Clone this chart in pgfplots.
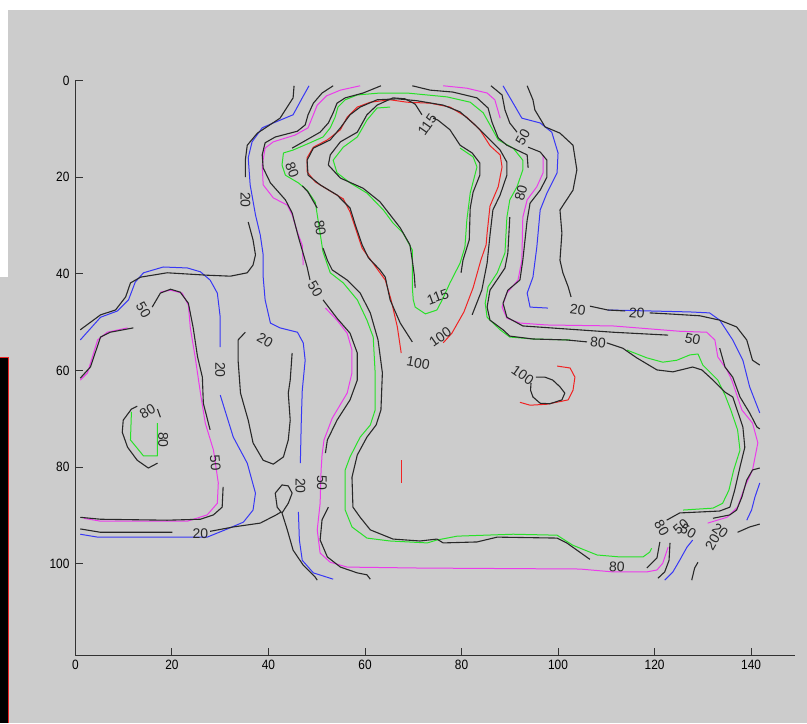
\documentclass[border=0pt]{standalone}
\usepackage{pgfplots}
\pgfplotsset{compat=1.18}
\usepackage{fontspec}
\setmainfont{Liberation Sans}
\newfontfamily\tickfam{Liberation Sans}[FakeStretch=0.88]

\definecolor{bgc}{RGB}{204,204,204}
\definecolor{axc}{RGB}{50,50,50}
\definecolor{kln}{RGB}{40,40,40}
\definecolor{cblue}{RGB}{55,55,245}
\definecolor{cmag}{RGB}{235,60,235}
\definecolor{cgreen}{RGB}{40,225,40}
\definecolor{cred}{RGB}{240,35,35}

\pgfplotsset{
  bl/.style={draw=cblue, line width=1pt, no markers, line join=round},
  mg/.style={draw=cmag, line width=1pt, no markers, line join=round},
  gr/.style={draw=cgreen, line width=1pt, no markers, line join=round},
  rd/.style={draw=cred, line width=1pt, no markers, line join=round},
  kk/.style={draw=kln, line width=1.1pt, no markers, line join=round},
}
\tikzset{lbl/.style={font=\fontsize{14}{16}\selectfont, text=kln, inner sep=0pt}}

\begin{document}
\begin{tikzpicture}
% window background and screen edges
\fill[bgc] (0pt,0pt) rectangle (807pt,-723pt);
\fill[white] (0pt,0pt) rectangle (807pt,-10pt);
\fill[white] (0pt,-10pt) rectangle (8pt,-277pt);
\fill[black] (0pt,-357pt) rectangle (7.5pt,-723pt);
\draw[cred, line width=1pt] (0pt,-357.5pt) -- (8pt,-357.5pt) -- (8pt,-723pt);

\begin{axis}[
  at={(75pt,-80.5pt)}, anchor=north west,
  scale only axis, width=719.5pt, height=575.4pt,
  xmin=0, xmax=149, ymin=0, ymax=119,
  y dir=reverse,
  axis x line*=bottom, axis y line*=left,
  axis line style={draw=axc, line width=1.2pt},
  xtick={0,20,...,140}, ytick={0,20,...,100},
  tick align=inside, major tick length=7.5pt,
  tick style={draw=axc, line width=1pt},
  tick label style={font=\tickfam\fontsize{13.5}{15}\selectfont},
  yticklabel style={xshift=-2.5pt},
  xticklabel style={yshift=-1.5pt},
  /pgf/number format/assume math mode=true,
  clip=false,
]

% ---------------- level 20, blue
\addplot[bl] coordinates {(48.4,1.1)(47.0,3.6)(45.1,7.1)(41.0,8.8)(38.7,9.8)(36.6,12.7)(35.8,16.0)(36.2,21.6)(37.3,27.8)(38.3,32.0)(38.9,36.1)(38.9,40.7)(39.3,45.4)(40.4,50.2)(42.4,51.2)(46.0,52.1)(47.2,54.3)(47.6,57.9)(47.0,64.1)(46.8,70.3)(46.6,79.2)};
\addplot[bl] coordinates {(46.2,89.3)(46.4,95.1)(47.0,99.3)(49.3,101.9)(53.4,103.2)};
\addplot[bl] coordinates {(1.0,53.7)(5.2,49.0)(8.7,47.7)(11.0,45.4)(12.4,41.7)(14.1,39.8)(18.2,38.6)(23.2,38.8)(25.9,39.6)(27.9,41.3)(29.4,44.0)(30.0,49.0)(30.0,55.2)};
\addplot[bl] coordinates {(30.0,65.1)(32.7,73.8)(35.6,79.2)(37.3,85.4)(36.8,88.9)(34.8,91.4)(31.5,92.8)(27.3,94.5)(4.6,94.5)(1.0,93.9)};
\addplot[bl] coordinates {(88.6,1.1)(90.7,4.7)(92.5,7.8)(96.3,8.8)(98.7,10.7)(100.0,15.0)(99.8,19.1)(97.7,23.3)(96.3,26.8)(95.6,34.5)(94.8,40.7)(93.6,44.0)(94.2,46.9)(97.9,47.1)};
\addplot[bl] coordinates {(110.3,47.5)(119.0,47.7)(127.3,47.9)(131.4,48.1)(133.5,49.6)(136.2,53.7)(138.3,57.9)(139.7,63.4)(141.8,68.8)};
\addplot[bl] coordinates {(141.8,83.3)(140.8,86.2)(140.1,88.9)(139.1,91.0)};
\addplot[bl] coordinates {(127.9,95.1)(126.7,96.6)(125.2,99.3)(123.8,101.7)(122.1,103.4)};

% ---------------- level 50, magenta
\addplot[mg] coordinates {(59.0,1.1)(54.9,2.0)(52.0,3.2)(50.1,5.1)(49.3,7.1)(48.2,9.8)(45.5,11.3)(41.0,12.7)(39.3,14.0)(38.7,17.5)(38.9,21.6)(41.0,24.3)(43.9,25.8)(44.9,27.8)(46.0,31.4)(47.0,34.1)(47.2,38.2)};
\addplot[mg] coordinates {(51.8,47.1)(54.2,49.6)(56.3,52.3)(57.3,55.8)(57.3,60.5)(56.3,64.7)(53.2,69.9)(51.5,74.4)(51.1,77.5)(50.9,80.6)(50.7,87.5)(50.1,93.0)(50.7,97.8)(52.8,99.7)(56.3,100.7)(71.4,100.9)(104.5,101.1)(111.4,101.7)(118.4,101.7)(120.5,101.3)(121.7,99.9)(122.8,96.6)};
\addplot[mg] coordinates {(76.2,1.1)(81.1,1.6)(85.3,2.6)(86.9,4.0)(88.0,7.8)};
\addplot[mg] coordinates {(96.9,15.4)(96.9,19.1)(95.6,22.0)(93.6,24.7)(92.7,28.3)(92.5,37.2)(91.7,41.3)(89.4,44.0)(88.4,46.9)(89.4,49.2)(92.1,50.2)(97.7,50.6)(111.4,50.8)(125.2,51.9)(130.8,52.1)(132.5,53.7)(133.1,57.2)(135.0,59.9)(136.0,62.0)(138.1,68.2)(140.3,70.9)(141.4,75.0)(140.3,80.6)(138.7,84.1)(137.2,88.3)(135.0,90.4)(131.0,91.6)};
\addplot[mg] coordinates {(1.0,62.0)(2.5,60.5)(4.6,53.7)(6.6,52.1)(10.8,51.2)};
\addplot[mg] coordinates {(17.6,43.8)(19.7,43.4)(22.1,44.0)(23.4,46.5)(23.8,51.2)(24.8,57.2)(25.9,64.7)(26.9,70.9)(28.6,76.5)(29.6,83.3)(29.4,87.5)(27.3,89.9)(23.2,91.2)(5.2,91.2)(1.7,90.6)};

% ---------------- level 80, green
\addplot[gr] coordinates {(119.4,96.8)(119.0,97.6)(117.6,98.6)(112.8,98.6)(108.1,98.2)(103.1,96.2)(99.8,94.1)(90.7,93.9)(79.1,94.3)(74.9,95.1)(72.9,95.7)(65.2,95.3)(60.4,94.7)(57.3,92.4)(55.9,88.9)(55.9,80.6)(56.9,77.9)(59.0,73.8)(61.1,71.3)(62.1,68.2)(62.1,60.5)(61.7,53.1)(60.4,49.6)(58.4,45.4)(55.5,41.9)(52.8,39.8)(51.3,35.5)(49.7,25.2)(48.0,22.7)(46.2,21.2)(43.5,19.6)(42.8,17.5)(43.1,15.0)(45.1,14.4)(48.6,12.9)(51.3,11.7)(52.8,9.8)(53.8,7.6)(54.4,5.5)(55.9,4.0)(58.4,3.0)(63.1,2.6)(68.7,2.6)(77.0,3.4)(81.8,4.5)(84.5,6.7)(85.9,9.2)(87.6,12.3)(90.7,14.0)(92.7,16.5)(92.7,18.5)(91.5,22.0)(90.0,24.7)(89.4,28.3)(89.0,35.7)(87.4,39.8)(85.5,42.7)(84.9,46.1)(85.3,49.0)(88.0,51.6)(90.0,53.1)(94.8,53.5)(102.5,53.7)};
\addplot[gr] coordinates {(114.3,55.8)(118.4,57.4)(121.7,58.3)(124.6,57.9)(127.3,56.8)(129.0,56.6)(130.0,58.9)(131.4,60.3)(133.1,62.0)(134.6,65.1)(135.8,68.2)(137.2,72.3)(137.7,76.5)(136.4,80.6)(135.4,84.8)(134.1,87.5)(132.1,88.5)(125.9,88.9)};
\addplot[gr] coordinates {(11.6,68.6)(11.4,74.4)(12.8,76.1)(14.1,77.7)(17.0,77.7)(17.0,70.9)};

% ---------------- level 100, red
\addplot[rd] coordinates {(67.5,56.4)(66.7,51.0)(65.4,45.4)(64.2,41.3)(61.5,37.6)(59.4,34.7)(58.0,30.5)(56.9,27.2)(55.5,24.5)(52.8,22.9)(49.7,21.0)(48.0,18.9)(48.0,16.0)(49.3,13.8)(52.2,12.3)(54.9,10.2)(56.3,7.6)(58.4,5.5)(61.1,4.5)(65.2,4.0)(68.7,4.5)(73.5,4.7)(77.6,5.5)(81.1,7.6)(83.8,10.2)(85.9,13.5)(88.0,15.4)(88.4,17.9)(87.6,22.0)(85.9,26.0)(85.3,31.6)(85.1,34.0)(84.0,37.2)(82.4,42.9)(80.5,47.9)(78.0,52.3)(76.2,54.3)};
\addplot[rd] coordinates {(99.8,59.1)(102.5,59.5)(103.5,61.4)(103.1,64.1)(102.1,66.1)(97.7,67.0)(94.2,67.2)(92.1,66.6)};
\addplot[rd] coordinates {(67.5,78.6)(67.5,83.3)};

% ---------------- level 115, green
\addplot[gr] coordinates {(65.2,5.5)(62.5,5.7)(60.4,8.2)(58.4,11.7)(55.5,13.8)(53.4,16.5)(54.2,19.1)(56.9,21.2)(60.4,23.3)(63.8,26.8)(65.8,29.5)(67.9,31.6)(69.8,35.1)(69.8,42.7)(70.0,45.4)(70.4,46.9)(72.5,48.3)(74.9,47.5)(76.0,45.4)(77.6,41.9)(79.7,37.8)(80.7,34.5)(81.1,28.9)(81.8,23.3)(83.2,17.9)(82.4,15.8)(79.7,14.0)};

% ---------------- labelled contours, black
% 20
\addplot[kk] coordinates {(45.3,1.1)(45.1,3.6)(42.4,7.8)(37.7,10.9)(35.6,13.4)(35.2,16.5)(35.2,20.0)};
\addplot[kk] coordinates {(35.8,29.3)(36.8,33.0)(37.3,36.1)(36.8,38.2)(35.6,39.8)(32.1,40.5)(27.3,40.3)(19.0,39.8)(13.5,40.7)(11.4,41.9)(10.4,44.8)(8.3,47.5)(5.2,48.5)(1.0,51.6)};
\addplot[kk] coordinates {(1.0,92.8)(5.2,93.5)(20.1,93.5)};
\addplot[kk] coordinates {(27.9,93.3)(32.7,92.4)(38.3,91.6)(41.6,89.9)(42.6,89.3)(41.8,88.3)(41.4,85.4)(42.8,83.7)(44.1,83.9)(44.9,85.4)(44.1,87.5)(42.8,89.5)(43.9,93.0)(45.1,97.2)(47.2,100.3)(49.7,102.8)(50.1,103.4)};
\addplot[kk] coordinates {(35.2,52.1)(33.7,53.7)(33.7,57.9)(34.2,64.7)(35.8,70.3)(36.8,75.0)(38.9,78.6)(41.0,79.4)(43.1,77.9)(44.1,74.4)(44.5,70.3)(44.1,64.7)(44.5,62.0)(44.9,56.4)};
\addplot[kk] coordinates {(93.6,1.1)(94.8,4.0)(95.2,6.1)(97.3,9.6)(100.4,10.9)(103.1,13.4)(103.9,18.5)(103.1,22.7)(100.4,26.8)(100.8,31.6)(100.4,37.2)(101.0,39.8)(102.1,42.7)(102.7,44.8)};
\addplot[kk] coordinates {(106.6,46.7)(110.3,47.5)(113.9,47.7)};
\addplot[kk] coordinates {(119.0,48.1)(122.8,48.3)(129.4,48.7)(133.5,49.6)(137.0,51.0)(139.1,53.7)(140.3,57.9)(141.8,58.9)};
\addplot[kk] coordinates {(141.8,91.8)(139.7,92.4)(137.2,93.5)};
\addplot[kk] coordinates {(129.0,99.7)(128.3,100.9)(127.7,103.4)};
% 50
\addplot[kk] coordinates {(53.4,1.1)(51.1,2.6)(49.3,4.7)(48.2,7.1)(47.6,9.2)(46.0,10.5)(41.4,11.7)(39.3,12.9)(38.7,15.4)(38.9,18.1)(40.4,21.2)(43.5,24.7)(44.9,27.4)(46.2,32.4)(48.0,38.6)(48.6,41.3)};
\addplot[kk] coordinates {(51.3,45.4)(54.2,49.2)(56.9,52.3)(58.4,56.4)(58.4,62.0)(56.9,66.1)(54.2,70.3)(52.2,74.4)(51.8,77.1)};
\addplot[kk] coordinates {(52.4,88.3)(51.1,90.9)(50.7,95.1)(52.2,98.6)(54.9,100.7)(58.4,101.9)(60.4,102.3)(61.1,103.2)};
\addplot[kk] coordinates {(86.1,1.1)(88.4,3.0)(89.0,6.1)(90.0,8.8)(91.5,10.7)};
\addplot[kk] coordinates {(93.8,13.8)(96.3,14.8)(97.7,16.5)(97.7,20.0)(96.3,22.7)(94.2,25.4)(93.6,28.9)(92.7,37.2)(92.1,41.3)(89.6,43.4)(88.6,46.1)(89.4,49.0)(92.7,50.8)(111.4,52.1)(122.8,52.7)};
\addplot[kk] coordinates {(133.5,55.4)(134.6,59.3)(136.2,61.4)(137.7,65.5)(139.7,68.8)(141.2,71.7)(141.8,72.1)};
\addplot[kk] coordinates {(141.8,80.2)(140.3,80.6)(139.1,82.7)(138.1,86.2)(137.0,88.9)(135.6,89.9)(132.1,90.6)};
\addplot[kk] coordinates {(123.2,95.7)(123.0,99.3)(122.1,101.7)(120.7,103.0)};
\addplot[kk] coordinates {(1.0,61.6)(3.1,59.3)(5.2,53.1)(7.2,52.1)(12.0,51.2)};
\addplot[kk] coordinates {(15.9,46.9)(17.6,44.0)(19.7,43.2)(21.7,43.8)(23.4,46.1)(24.4,51.2)(25.3,57.2)(26.3,61.4)(26.5,66.8)(27.9,72.3)};
\addplot[kk] coordinates {(30.6,84.1)(30.4,88.3)(28.6,89.9)(25.9,90.8)(19.0,91.0)(5.2,90.8)(1.0,90.4)};
% 80
\addplot[kk] coordinates {(63.3,1.1)(61.1,2.0)(59.6,2.6)(55.9,3.6)(54.2,4.7)(53.4,6.7)(52.4,8.8)(50.7,10.7)(47.2,12.7)(44.9,14.0)};
\addplot[kk] coordinates {(47.0,21.8)(48.2,23.1)(50.1,26.4)};
\addplot[kk] coordinates {(51.3,34.7)(52.2,37.2)(53.2,39.2)(56.3,41.3)(59.0,44.0)(61.1,48.1)(62.7,53.7)(63.6,60.5)(63.3,68.2)(62.3,71.3)(60.4,73.8)(58.4,77.5)(57.3,82.1)(57.5,88.3)(59.0,90.4)(61.1,93.0)(65.8,94.9)(71.4,95.3)(74.9,94.9)(76.2,95.7)(83.2,95.5)(87.4,94.5)(99.8,94.7)(101.8,95.7)(106.6,99.1)};
\addplot[kk] coordinates {(69.8,1.1)(73.5,2.0)(78.2,2.4)(83.2,3.6)(85.5,5.7)(86.3,8.6)(87.6,11.9)(89.4,13.4)(91.5,14.4)(93.6,15.4)(93.8,18.1)};
\addplot[kk] coordinates {(90.0,28.3)(89.6,35.7)(89.0,38.8)(87.6,40.9)(85.9,43.4)(85.3,46.9)(85.9,49.6)(88.6,51.6)(90.0,52.9)(94.8,53.5)(101.8,53.7)(106.0,54.1)};
\addplot[kk] coordinates {(110.1,54.3)(113.4,55.4)(116.3,57.4)(120.5,59.9)(123.8,60.3)(127.9,59.3)(129.8,59.9)(132.1,62.0)(134.6,64.5)(136.2,65.5)(138.3,71.7)(138.7,75.9)(137.7,80.0)(136.6,84.8)(135.6,88.3)(133.5,89.1)(125.2,89.5)(122.5,91.0)};
\addplot[kk] coordinates {(121.1,95.5)(120.5,98.8)(118.4,100.9)};
\addplot[kk] coordinates {(17.6,69.7)(17.0,68.0)};
\addplot[kk] coordinates {(12.8,67.4)(11.6,68.0)(9.9,70.3)(9.7,72.8)(10.8,75.9)(12.8,78.6)(15.1,80.2)(17.0,79.2)};
% 100
\addplot[kk] coordinates {(69.8,54.1)(67.3,50.2)(65.2,45.4)(64.2,40.7)(63.1,39.2)(60.7,36.7)(59.4,34.0)(58.0,29.9)(56.9,26.4)(54.2,23.7)(50.7,21.6)(48.2,19.6)(48.0,16.5)(49.3,14.0)(52.8,12.3)(54.9,9.8)(56.9,7.1)(59.0,5.5)(62.5,4.0)(66.7,3.8)(70.8,4.2)(76.2,5.1)(79.7,6.5)(82.8,9.2)(85.9,12.3)(88.0,14.4)(89.4,16.9)(89.4,19.6)(88.0,23.7)(86.5,26.8)(85.9,32.0)(85.3,37.8)(84.2,43.4)(82.2,48.5)};
\addplot[kk] coordinates {(95.4,61.4)(97.3,61.4)(98.9,62.0)(100.4,63.4)(101.4,64.7)(100.8,66.1)(98.3,66.9)(96.3,66.8)(94.8,65.5)(94.3,64.1)(94.4,62.6)};
% 115
\addplot[kk] coordinates {(71.8,7.1)(70.4,4.9)(68.3,3.8)(65.8,3.6)(62.5,5.1)(60.4,7.1)(58.4,10.7)(54.9,12.7)(52.8,15.4)(52.4,17.5)(54.9,20.2)(59.6,22.3)(63.1,25.1)(65.2,27.8)(67.3,30.5)(69.3,34.0)(69.8,37.2)(70.2,40.2)(70.4,42.9)};
\addplot[kk] coordinates {(74.1,7.8)(75.1,8.2)(77.6,10.2)(79.7,13.4)(82.2,15.0)(83.8,17.1)(83.8,19.6)(82.4,23.1)(81.8,26.4)(81.6,33.0)(80.3,37.2)(79.9,39.8)};

% ---------------- contour labels
\node[lbl, rotate=-90] at (axis cs:35.2,24.7) {20};
\node[lbl, rotate=-90] at (axis cs:46.6,83.9) {20};
\node[lbl, rotate=-90] at (axis cs:30.0,59.9) {20};
\node[lbl, rotate=-30] at (axis cs:39.3,53.7) {20};
\node[lbl] at (axis cs:25.9,93.7) {20};
\node[lbl, rotate=-8] at (axis cs:104.1,47.5) {20};
\node[lbl, rotate=-5] at (axis cs:116.3,48.1) {20};
\node[lbl, rotate=-35] at (axis cs:133.6,93.2) {20};
\node[lbl, rotate=60] at (axis cs:132.0,95.5) {20};

\node[lbl, rotate=-60] at (axis cs:14.1,47.5) {50};
\node[lbl, rotate=-85] at (axis cs:29.0,79.2) {50};
\node[lbl, rotate=-60] at (axis cs:49.7,43.2) {50};
\node[lbl, rotate=-90] at (axis cs:51.1,83.3) {50};
\node[lbl, rotate=60] at (axis cs:92.7,11.7) {50};
\node[lbl, rotate=-12] at (axis cs:127.9,53.5) {50};
\node[lbl, rotate=40] at (axis cs:125.5,92.4) {50};
\node[lbl, rotate=-30] at (axis cs:127.0,93.3) {50};

\node[lbl, rotate=-70] at (axis cs:44.9,18.5) {80};
\node[lbl, rotate=-80] at (axis cs:50.7,30.5) {80};
\node[lbl, rotate=75] at (axis cs:92.3,23.3) {80};
\node[lbl, rotate=-5] at (axis cs:108.3,54.3) {80};
\node[lbl, rotate=-60] at (axis cs:121.5,92.6) {80};
\node[lbl, rotate=-3] at (axis cs:112.2,100.7) {80};
\node[lbl, rotate=30] at (axis cs:14.9,68.4) {80};
\node[lbl, rotate=-90] at (axis cs:18.2,74.4) {80};

\node[lbl, rotate=-10] at (axis cs:71.0,58.5) {100};
\node[lbl, rotate=35] at (axis cs:75.6,53.1) {100};
\node[lbl, rotate=-35] at (axis cs:92.7,61.0) {100};

\node[lbl, rotate=55] at (axis cs:72.9,9.2) {115};
\node[lbl, rotate=20] at (axis cs:75.1,44.8) {115};
\end{axis}
\end{tikzpicture}
\end{document}
